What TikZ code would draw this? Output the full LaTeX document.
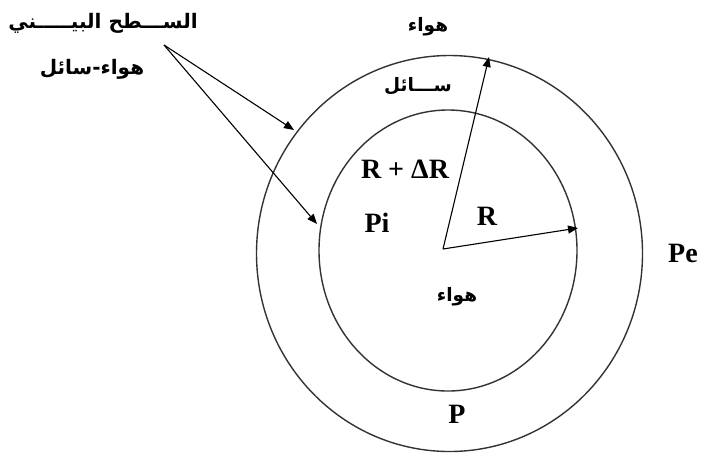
\documentclass[tikz,border=0pt]{standalone}
\usepackage{fontspec}
\setmainfont{Liberation Serif}
\newfontfamily\arabicfont[Script=Arabic]{DejaVu Sans}
\TeXXeTstate=1
\usetikzlibrary{arrows.meta}
\begin{document}
\begin{tikzpicture}[x=1pt,y=-1pt,
  ring/.style={draw=black!80,line width=1.4pt},
  ptr/.style={draw=black,line width=1.1pt,-{Triangle[length=10pt,width=8pt]}},
  lat/.style={font=\fontsize{28}{30}\selectfont\bfseries,inner sep=0pt},
  arab/.style={font=\fontsize{18.5}{20}\selectfont\arabicfont\bfseries,inner sep=0pt}]
\useasboundingbox (0,0) rectangle (703,459);
% rings
\draw[ring] (449.5,253.5) ellipse [x radius=193, y radius=198];
\draw[ring] (448,250.5) ellipse [x radius=129, y radius=140.5];
% points
\coordinate (c) at (443,249);
\coordinate (tipR) at (578,228);
\coordinate (tipDR) at (489,57);
\coordinate (apex) at (164,45);
\coordinate (tipOut) at (294,130);
\coordinate (tipIn) at (317,224);
% arrows
\draw[ptr] (c) -- (tipR);
\draw[ptr] (c) -- (tipDR);
\draw[ptr] (apex) -- (tipOut);
\draw[ptr] (apex) -- (tipIn);
% labels
\node[arab,font=\fontsize{20}{22}\selectfont\arabicfont\bfseries] (iface) at (103,23) {\beginR الســـطح البيـــــني\endR};
\node[arab,font=\fontsize{20}{22}\selectfont\arabicfont\bfseries] (airliq) at (92,69) {\beginR هواء-سائل\endR};
\node[arab] (airtop) at (428,27) {\beginR هواء\endR};
\node[arab] (liq) at (418,86) {\beginR ســـائل\endR};
\node[arab] (airin) at (457,297) {\beginR هواء\endR};
\node[lat] (rdr) at (405,169) {R + ΔR};
\node[lat] (pi) at (377,223) {Pi};
\node[lat] (r) at (487,216) {R};
\node[lat] (pe) at (683,253) {Pe};
\node[lat] (p) at (457,414) {P};
\end{tikzpicture}
\end{document}
